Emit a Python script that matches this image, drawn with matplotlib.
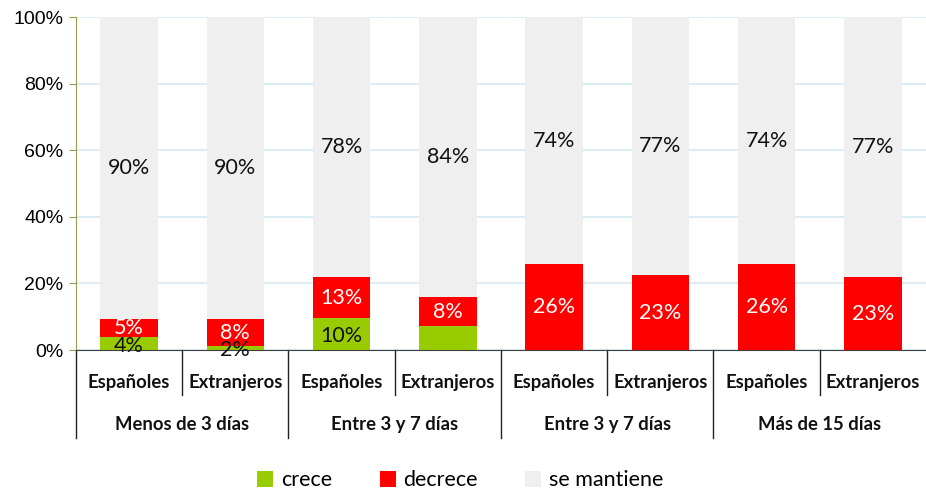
import matplotlib.pyplot as plt
import numpy as np

# data (percent)
categorias = ['Españoles', 'Extranjeros'] * 4
grupos = ['Menos de 3 días', 'Entre 3 y 7 días', 'Entre 3 y 7 días', 'Más de 15 días']
crece = [3.9, 1.2, 9.6, 7.2, 0, 0, 0, 0]
decrece = [5.4, 8.1, 12.3, 8.7, 25.8, 22.5, 25.8, 21.9]
mantiene = [100 - c - d for c, d in zip(crece, decrece)]
crece_lbl = ['4%', '2%', '10%', '', '', '', '', '']
decrece_lbl = ['5%', '8%', '13%', '8%', '26%', '23%', '26%', '23%']
mantiene_lbl = ['90%', '90%', '78%', '84%', '74%', '77%', '74%', '77%']

verde = '#99cc00'
rojo = '#ff0000'
gris = '#efefef'

fig = plt.figure(figsize=(9.26, 4.93), dpi=100)
ax = fig.add_axes([0.082, 0.29, 0.918, 0.6755])

x = np.arange(len(categorias))
w = 0.54
b1 = ax.bar(x, crece, w, color=verde, label='crece', zorder=2)
b2 = ax.bar(x, decrece, w, bottom=crece, color=rojo, label='decrece', zorder=2)
base = [c + d for c, d in zip(crece, decrece)]
b3 = ax.bar(x, mantiene, w, bottom=base, color=gris, label='se mantiene', zorder=2)

lblfont = dict(family=['Lato', 'DejaVu Sans'], fontsize=15.5)
for i in range(len(x)):
    if crece_lbl[i]:
        ax.text(x[i], crece[i] / 2 - 0.6, crece_lbl[i], ha='center', va='center',
                color='#111111', zorder=3, **lblfont)
    ax.text(x[i], crece[i] + decrece[i] / 2, decrece_lbl[i], ha='center', va='center',
            color='white', zorder=3, **lblfont)
    ax.text(x[i], base[i] + mantiene[i] / 2, mantiene_lbl[i], ha='center', va='center',
            color='#111111', zorder=3, **lblfont)

ax.set_xlim(-0.5, 7.5)
ax.set_ylim(0, 100)
ax.set_yticks([0, 20, 40, 60, 80, 100])
ax.set_yticklabels(['0%', '20%', '40%', '60%', '80%', '100%'],
                   family=['Liberation Sans', 'DejaVu Sans'], fontsize=14)
ax.yaxis.grid(True, color='#d5eaf3', lw=1.2, zorder=0)
ax.set_axisbelow(True)
ax.tick_params(axis='y', length=5, color='#9a9a50', pad=4)
ax.set_xticks([])
for s in ['top', 'right']:
    ax.spines[s].set_visible(False)
ax.spines['left'].set_color('#9a9a50')
ax.spines['bottom'].set_color('#404040')

# multi-level category axis
tr = ax.get_xaxis_transform()
for i in range(len(x)):
    pos = i - 0.5
    y_end = -0.264 if i % 2 == 0 else -0.135
    ax.plot([pos, pos], [0, y_end], transform=tr, color='#222222', lw=1, clip_on=False)
for i, c in enumerate(categorias):
    ax.text(i, -0.099, c, transform=tr, ha='center', va='center', fontsize=13.3,
            fontweight='bold', family=['Lato', 'DejaVu Sans'], color='#111111')
for g, name in enumerate(grupos):
    ax.text(2 * g + 0.5, -0.225, name, transform=tr, ha='center', va='center', fontsize=13.3,
            fontweight='bold', family=['Lato', 'DejaVu Sans'], color='#111111')

fig.legend(handles=[b1, b2, b3], loc='center', bbox_to_anchor=(0.497, 0.026), ncol=3,
           frameon=False, prop={'family': ['Lato', 'DejaVu Sans'], 'size': 15.5},
           handlelength=0.75, handleheight=0.75, handletextpad=0.35, columnspacing=2.2)

fig.savefig('out.png', dpi=100)
